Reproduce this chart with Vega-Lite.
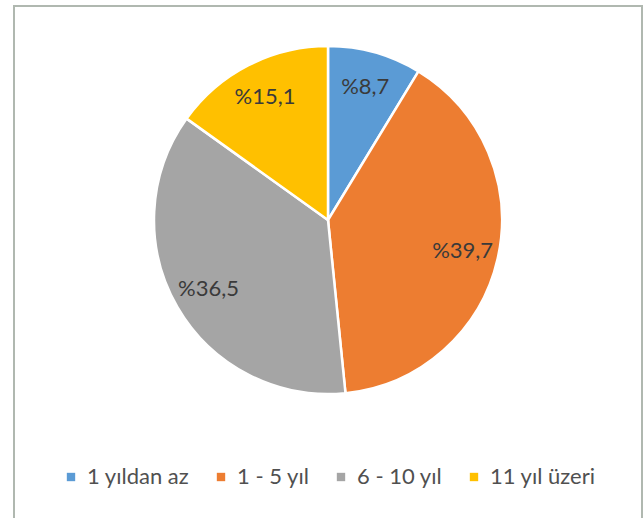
{
  "$schema": "https://vega.github.io/schema/vega-lite/v6.json",
  "width": 628,
  "height": 520,
  "autosize": {"type": "none"},
  "padding": {"left": 14, "top": 6, "right": 2, "bottom": 0},
  "background": "white",
  "config": {
    "view": {"stroke": "#b0b8b0", "strokeWidth": 2},
    "font": "Lato"
  },
  "data": {
    "values": [
      {"kategori": "1 yıldan az", "yuzde": 8.7, "etiket": "%8,7", "sira": 1},
      {"kategori": "1 - 5 yıl", "yuzde": 39.7, "etiket": "%39,7", "sira": 2},
      {"kategori": "6 - 10 yıl", "yuzde": 36.5, "etiket": "%36,5", "sira": 3},
      {"kategori": "11 yıl üzeri", "yuzde": 15.1, "etiket": "%15,1", "sira": 4}
    ]
  },
  "encoding": {
    "theta": {"field": "yuzde", "type": "quantitative", "stack": true},
    "order": {"field": "sira", "type": "quantitative"},
    "x": {"value": 314},
    "y": {"value": 214}
  },
  "layer": [
    {
      "mark": {"type": "arc", "outerRadius": 174, "stroke": "white", "strokeWidth": 2.5},
      "encoding": {
        "color": {
          "field": "kategori",
          "type": "nominal",
          "sort": ["1 yıldan az", "1 - 5 yıl", "6 - 10 yıl", "11 yıl üzeri"],
          "scale": {
            "domain": ["1 yıldan az", "1 - 5 yıl", "6 - 10 yıl", "11 yıl üzeri"],
            "range": ["#5B9BD5", "#ED7D31", "#A5A5A5", "#FFC000"]
          },
          "legend": {
            "title": null,
            "orient": "none",
            "direction": "horizontal",
            "legendX": 46,
            "legendY": 460,
            "symbolType": "square",
            "symbolSize": 70,
            "symbolStrokeWidth": 0,
            "labelFontSize": 22,
            "labelColor": "#505050",
            "labelFont": "Lato",
            "labelOffset": 5,
            "columnPadding": 20,
            "labelLimit": 300
          }
        }
      }
    },
    {
      "mark": {"type": "text", "radius": 138, "fontSize": 22, "color": "#3a3a3a", "font": "Lato"},
      "encoding": {
        "text": {"field": "etiket", "type": "nominal"}
      }
    }
  ]
}
